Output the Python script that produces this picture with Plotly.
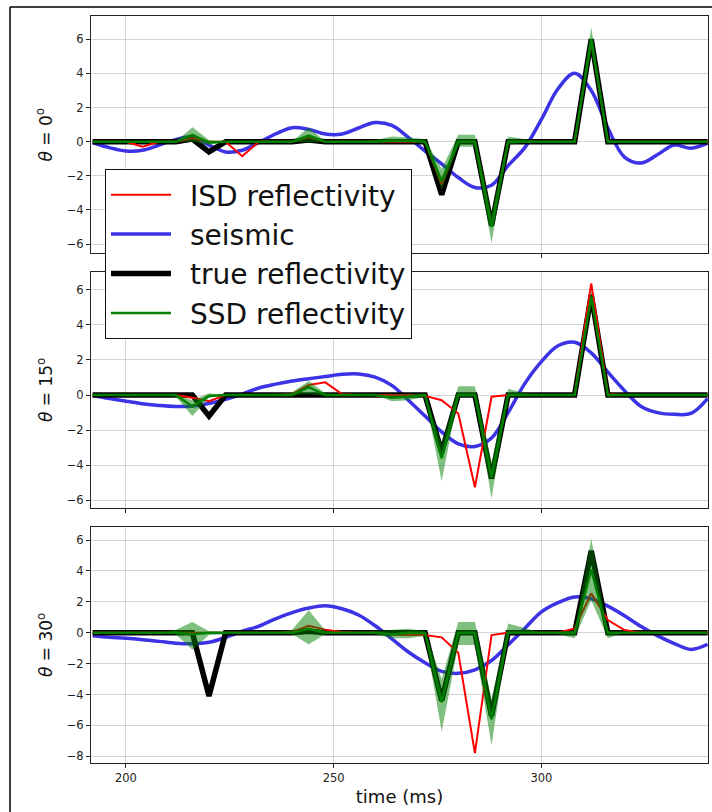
import plotly.graph_objects as go

# ---------------- data ----------------
time_ms = list(range(192, 341, 4))  # 38 samples, 4 ms

angle_labels = ["<i>θ</i> = 0<sup>o</sup>", "<i>θ</i> = 15<sup>o</sup>", "<i>θ</i> = 30<sup>o</sup>"]
legend_names = ["ISD reflectivity", "seismic", "true reflectivity", "SSD reflectivity"]

# theta = 0
seismic_0 = [-0.05, -0.35, -0.55, -0.5, -0.2, 0.12, 0.28, -0.2, -0.6, -0.5, -0.05, 0.45,
             0.82, 0.72, 0.45, 0.45, 0.8, 1.12, 0.95, 0.25, -0.55, -1.3, -2.1, -2.68,
             -2.55, -1.4, -0.35, 1.3, 3.1, 4.0, 3.0, 0.8, -0.9, -1.25, -0.75, -0.2, -0.38, -0.1]
true_0 = [0, 0, 0, 0, 0, 0, 0.15, -0.6, 0, 0, 0, 0, 0, 0.1, 0, 0, 0, 0, 0, 0,
          0, -3.1, 0, 0, -4.9, 0, 0, 0, 0, 0, 6.0, 0, 0, 0, 0, 0, 0, 0]
isd_0 = [0, 0, 0, -0.3, 0, 0, 0.2, 0, 0, -0.85, 0, 0, 0, 0.25, 0, 0, 0, 0, 0, 0,
         0, -2.5, 0, 0, -4.9, 0, 0, 0, 0, 0, 5.9, 0, 0, 0, 0, 0, 0, 0]
ssd_0 = [0, 0, 0, 0, 0, 0, 0.4, -0.05, 0, 0, 0, 0, 0, 0.35, 0, 0, 0, 0, 0.05, 0.05,
         0, -2.3, 0, 0, -5.0, 0, 0, 0, 0, 0, 6.0, 0, 0, 0, 0, 0, 0, 0]
ssd_lo_0 = [0, 0, 0, 0, 0, 0, 0.0, -0.2, 0, 0, 0, 0, 0, -0.05, 0, 0, 0, 0, -0.05, -0.05,
            -0.1, -2.8, -0.3, -0.3, -5.95, -0.2, -0.05, 0, 0, -0.1, 5.3, -0.1, 0, 0, 0, 0, 0, 0]
ssd_hi_0 = [0, 0, 0, 0, 0, 0, 0.85, 0.1, 0, 0, 0, 0, 0, 0.85, 0, 0, 0, 0.1, 0.3, 0.25,
            0.15, -1.6, 0.4, 0.4, -4.2, 0.3, 0.15, 0, 0, 0.1, 6.7, 0.1, 0, 0, 0, 0, 0, 0]

# theta = 15
seismic_15 = [-0.03, -0.2, -0.35, -0.5, -0.6, -0.65, -0.62, -0.48, -0.25, 0.05, 0.4, 0.62,
              0.8, 0.93, 1.05, 1.18, 1.2, 1.02, 0.55, -0.3, -1.2, -2.1, -2.78, -2.93,
              -2.45, -1.0, 0.65, 1.9, 2.8, 3.0, 2.4, 1.3, 0.25, -0.65, -1.0, -1.1, -1.05, -0.2]
true_15 = [0, 0, 0, 0, 0, 0, 0, -1.2, 0, 0, 0, 0, 0, 0.05, 0, 0, 0, 0, 0, 0,
           0, -3.25, 0, 0, -4.75, 0, 0, 0, 0, 0, 5.7, 0, 0, 0, 0, 0, 0, 0]
isd_15 = [0, 0, 0, 0, 0, 0, -0.15, -0.35, 0, 0, 0, 0, 0.05, 0.57, 0.72, 0.05, 0, 0, 0, 0,
          -0.05, -0.3, -1.05, -5.25, -0.1, 0, 0, 0, 0, 0, 6.35, 0.05, 0, 0, 0, 0, 0, 0]
ssd_15 = [0, 0, 0, 0, 0, 0, -0.65, -0.05, 0, 0, 0, 0, 0, 0.45, 0, 0, 0, 0, -0.15, -0.1,
          0, -3.6, 0, 0, -4.7, 0, 0, 0, 0, 0, 5.6, 0, 0, 0, 0, 0, 0, 0]
ssd_lo_15 = [0, 0, 0, 0, 0, -0.1, -1.2, -0.15, 0, 0, 0, 0, 0, 0.05, -0.05, 0, 0, 0, -0.35, -0.3,
             -0.1, -4.9, -0.1, -0.1, -5.9, -0.1, -0.05, 0, 0, 0, 5.2, -0.1, 0, 0, 0, 0, 0, 0]
ssd_hi_15 = [0, 0, 0, 0, 0, 0.05, -0.3, 0.1, 0, 0, 0, 0, 0.15, 0.8, 0.1, 0, 0, 0, 0.05, 0.05,
             0.1, -2.8, 0.5, 0.5, -3.8, 0.35, 0.1, 0, 0, 0, 6.0, 0.05, 0, 0, 0, 0, 0, 0]

# theta = 30
seismic_30 = [-0.2, -0.3, -0.36, -0.45, -0.56, -0.68, -0.72, -0.62, -0.3, 0.1, 0.42, 0.9,
              1.3, 1.6, 1.75, 1.55, 1.15, 0.45, -0.4, -1.25, -1.95, -2.5, -2.63, -2.4,
              -1.8, -0.78, 0.28, 1.35, 1.95, 2.32, 2.2, 1.72, 1.1, 0.4, -0.2, -0.7, -1.08, -0.75]
true_30 = [0, 0, 0, 0, 0, 0, 0, -4.1, 0, 0, 0, 0, 0, 0.1, 0, 0, 0, 0, 0, 0,
           0, -4.4, 0, 0, -5.4, 0, 0, 0, 0, 0, 5.3, 0, 0, 0, 0, 0, 0, 0]
isd_30 = [0, 0, 0, 0, 0, 0, 0, 0, 0, 0, 0, 0, 0.05, 0.45, 0.2, 0.05, 0, 0, -0.1, -0.15,
          -0.15, -0.3, -1.3, -7.8, -0.15, 0, 0, 0, 0, 0.28, 2.55, 0.82, 0.17, 0, 0, 0, 0, 0]
ssd_30 = [0, 0, 0, 0, 0, 0, -0.1, 0, 0, 0, 0, 0, 0, 0.25, 0, 0, 0, 0, -0.1, 0,
          0, -4.5, 0, 0, -5.6, 0, 0, 0, 0, 0, 4.1, 0, 0, 0, 0, 0, 0, 0]
ssd_lo_30 = [0, 0, 0, 0, 0, -0.1, -1.1, -0.15, -0.1, 0, 0, 0, -0.1, -0.75, -0.1, 0, 0, -0.1, -0.35, -0.35,
             -0.2, -6.4, -0.8, -0.8, -7.3, -0.1, -0.05, 0, -0.1, -0.35, 2.1, -0.35, 0, 0, 0, 0, 0, 0]
ssd_hi_30 = [0, 0, 0, 0, 0, 0.2, 0.7, 0.1, 0.05, 0, 0, 0, 0.2, 1.45, 0.15, 0, 0, 0.1, 0.2, 0.25,
             0.1, -3.0, 0.7, 0.7, -4.3, 0.6, 0.3, 0, 0.05, 0.15, 6.1, 0.1, 0, 0, 0, 0, 0, 0]

panels = [
    dict(seis=seismic_0, true=true_0, isd=isd_0, ssd=ssd_0, lo=ssd_lo_0, hi=ssd_hi_0),
    dict(seis=seismic_15, true=true_15, isd=isd_15, ssd=ssd_15, lo=ssd_lo_15, hi=ssd_hi_15),
    dict(seis=seismic_30, true=true_30, isd=isd_30, ssd=ssd_30, lo=ssd_lo_30, hi=ssd_hi_30),
]
y_tick_vals = [[-6, -4, -2, 0, 2, 4, 6], [-6, -4, -2, 0, 2, 4, 6], [-8, -6, -4, -2, 0, 2, 4, 6]]
x_tick_vals = [200, 250, 300]

# ---------------- styling / layout ----------------
W, H = 712, 812
FONT = "DejaVu Sans"
x_dom = [91 / W, 708 / W]
y_doms = [[1 - 253 / H, 1 - 16 / H], [1 - 508 / H, 1 - 272 / H], [1 - 763 / H, 1 - 527 / H]]
y_ranges = [[-6.52, 7.36], [-6.43, 7.0], [-8.44, 6.85]]
x_range = [191.6, 340.1]

C_SEIS = "rgb(60,50,230)"
C_ISD = "#ff0000"
C_TRUE = "#000000"
C_SSD = "#008000"
C_BAND = "rgba(0,128,0,0.5)"
SP = "\u2002"  # gap between legend line sample and label

fig = go.Figure()
for k, p in enumerate(panels):
    xa = "x" if k == 0 else f"x{k+1}"
    ya = "y" if k == 0 else f"y{k+1}"
    show = k == 0
    fig.add_trace(go.Scatter(x=time_ms, y=p["seis"], xaxis=xa, yaxis=ya, mode="lines",
                             line=dict(color=C_SEIS, width=3.5, shape="spline", smoothing=1.0),
                             name=SP + legend_names[1], legendgroup="g2", legendrank=2, showlegend=show))
    fig.add_trace(go.Scatter(x=time_ms, y=p["true"], xaxis=xa, yaxis=ya, mode="lines",
                             line=dict(color=C_TRUE, width=5.5),
                             name=SP + legend_names[2], legendgroup="g3", legendrank=3, showlegend=show))
    fig.add_trace(go.Scatter(x=time_ms, y=p["isd"], xaxis=xa, yaxis=ya, mode="lines",
                             line=dict(color=C_ISD, width=2),
                             name=SP + legend_names[0], legendgroup="g1", legendrank=1, showlegend=show))
    fig.add_trace(go.Scatter(x=time_ms, y=p["lo"], xaxis=xa, yaxis=ya, mode="lines",
                             line=dict(width=0, color=C_BAND), hoverinfo="skip", showlegend=False))
    fig.add_trace(go.Scatter(x=time_ms, y=p["hi"], xaxis=xa, yaxis=ya, mode="lines",
                             line=dict(width=0, color=C_BAND), fill="tonexty", fillcolor=C_BAND,
                             hoverinfo="skip", showlegend=False))
    fig.add_trace(go.Scatter(x=time_ms, y=p["ssd"], xaxis=xa, yaxis=ya, mode="lines",
                             line=dict(color=C_SSD, width=2.5),
                             name=SP + legend_names[3], legendgroup="g4", legendrank=4, showlegend=show))

axis_common = dict(showline=True, mirror=True, linecolor="#222222", linewidth=1,
                   ticks="outside", ticklen=4, tickwidth=1, tickcolor="#222222",
                   showgrid=True, gridcolor="#d4d4d4", gridwidth=1, zeroline=False,
                   tickfont=dict(family=FONT, size=11.5, color="#222222"))

layout = dict(width=W, height=H, margin=dict(l=0, r=0, t=0, b=0),
              paper_bgcolor="white", plot_bgcolor="white",
              font=dict(family=FONT, color="#111111"),
              showlegend=True,
              legend=dict(x=105 / W, y=1 - 169 / H, xanchor="left", yanchor="top",
                          bgcolor="white", bordercolor="#111111", borderwidth=1,
                          font=dict(family=FONT, size=28, color="#111111"),
                          traceorder="grouped", tracegroupgap=0, itemwidth=60))
for k in range(3):
    xn = "xaxis" if k == 0 else f"xaxis{k+1}"
    yn = "yaxis" if k == 0 else f"yaxis{k+1}"
    ya = "y" if k == 0 else f"y{k+1}"
    xa = "x" if k == 0 else f"x{k+1}"
    layout[xn] = dict(axis_common, domain=x_dom, range=x_range, anchor=ya,
                      tickvals=x_tick_vals, showticklabels=(k == 2))
    layout[yn] = dict(axis_common, domain=y_doms[k], range=y_ranges[k], anchor=xa,
                      tickvals=y_tick_vals[k])
layout["xaxis3"]["title"] = dict(text="time (ms)", font=dict(family=FONT, size=18, color="#111111"),
                                 standoff=6)
fig.update_layout(**layout)

for k in range(3):
    yd = "y domain" if k == 0 else f"y{k+1} domain"
    fig.add_annotation(text=angle_labels[k], xref="paper", yref=yd, x=45 / W, y=0.5,
                       textangle=-90, showarrow=False, xanchor="center", yanchor="middle",
                       font=dict(family=FONT, size=17, color="#111111"))

# outer figure frame (top and left edges visible)
fig.add_shape(type="line", xref="paper", yref="paper", x0=10 / W, x1=1.0, y0=1 - 7 / H, y1=1 - 7 / H,
              line=dict(color="black", width=1.5))
fig.add_shape(type="line", xref="paper", yref="paper", x0=10 / W, x1=10 / W, y0=0.0, y1=1 - 7 / H,
              line=dict(color="black", width=1.5))

# remove the browser's default page margin so the figure fills the 712x812 window exactly
fig.write_html("out.html", config={"displayModeBar": False},
               post_script="document.body.style.margin='0';document.body.style.overflow='hidden';")
